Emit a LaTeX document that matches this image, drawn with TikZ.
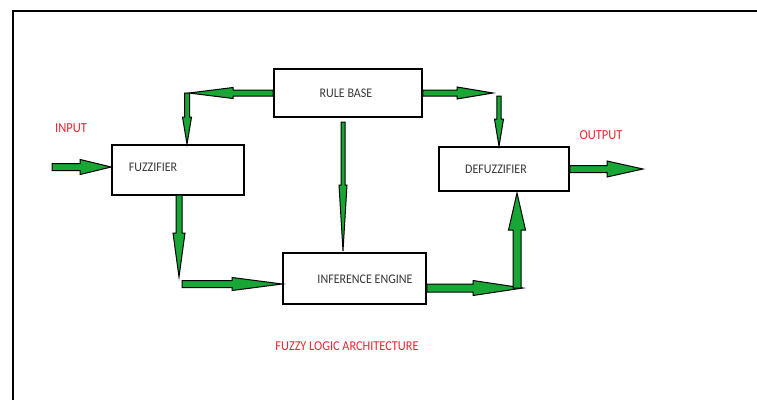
\documentclass[tikz,border=0pt]{standalone}
\usepackage{fontspec}
\setmainfont{Carlito}
\usetikzlibrary{calc}
\definecolor{arrgreen}{RGB}{24,166,52}
\definecolor{lblred}{RGB}{238,36,48}
\definecolor{txtgray}{RGB}{55,55,55}
\tikzset{
  box/.style={draw=black, line width=1.6pt, rectangle, inner sep=0pt},
  boxtext/.style={text=txtgray, font=\fontsize{12}{14}\selectfont, inner sep=0pt, yscale=1.1},
  redlbl/.style={text=lblred, font=\fontsize{12.5}{14}\selectfont, inner sep=0pt, yscale=1.1},
  blockarrow/.style={draw=black, fill=arrgreen, line width=1pt, line join=miter},
}
% #1 from, #2 to, #3 shaft half width, #4 head half width, #5 head length
\newcommand\blockarr[5]{%
  \draw[blockarrow] let \p1=#1, \p2=#2,
     \n1={atan2(\y2-\y1,\x2-\x1)}, \n2={veclen(\x2-\x1,\y2-\y1)} in
     [shift={(\p1)}, rotate=\n1]
     (0,-#3) -- ({\n2-#5},-#3) -- ({\n2-#5},-#4) -- ({\n2},0) --
     ({\n2-#5},#4) -- ({\n2-#5},#3) -- (0,#3) -- cycle;}
\begin{document}
\begin{tikzpicture}[x=1pt,y=-1pt]
\useasboundingbox (0,0) rectangle (757,400);
% frame
\draw[line width=2pt] (13,400) -- (13,11) -- (757,11);
% boxes
\node[box, minimum width=148pt, minimum height=48pt] (rb) at (348,93) {};
\node[box, minimum width=132pt, minimum height=50pt] (fz) at (178,170) {};
\node[box, minimum width=143pt, minimum height=51pt] (ie) at (354.5,278.5) {};
\node[box, minimum width=130pt, minimum height=44pt] (df) at (504,169) {};
% box texts
\node[boxtext] (rbt) at (346,93) {RULE BASE};
\node[boxtext] (fzt) at (153,167) {FUZZIFIER};
\node[boxtext] (iet) at (365,279) {INFERENCE ENGINE};
\node[boxtext] (dft) at (496,169) {DEFUZZIFIER};
% labels
\node[redlbl] (inl) at (71,128) {INPUT};
\node[redlbl] (outl) at (601,135) {OUTPUT};
\node[redlbl, font=\fontsize{12.3}{14}\selectfont] (title) at (347,346) {FUZZY LOGIC ARCHITECTURE};
% connector coordinates
\coordinate (inS) at (52,167);
\coordinate (c1) at (189,93);
\coordinate (c1b) at (187,93);
\coordinate (fzS) at (179,195);
\coordinate (c2) at (179,277);
\coordinate (c3) at (182,284);
\coordinate (rbS) at (343,122);
\coordinate (ieN) at (343,251);
\coordinate (c4) at (493,93);
\coordinate (c5) at (499,96);
\coordinate (c6) at (523,288);
\coordinate (c7) at (517,288);
\coordinate (dfS) at (517,193);
\coordinate (outE) at (643,169);
% arrows
\blockarr{(inS)}{(inS -| fz.west)}{3.5}{7.5}{31}
\blockarr{(rb.west)}{(c1)}{3}{5.5}{44}
\blockarr{(c1b)}{(c1b |- fz.north)}{2.5}{4.5}{27}
\blockarr{(fzS)}{(c2)}{3}{6}{44}
\blockarr{(c3)}{(c3 -| ie.west)}{3.5}{6.5}{50}
\blockarr{(rbS)}{(ieN)}{2}{4}{66}
\blockarr{(rb.east)}{(c4)}{3}{6}{36}
\blockarr{(c5)}{(c5 |- df.north)}{2.2}{4.5}{27}
\blockarr{(ie.east |- c6)}{(c6)}{4}{7.5}{50}
\blockarr{(c7)}{(dfS)}{4}{8.5}{37}
\blockarr{(df.east)}{(outE)}{3.5}{8}{36}
\end{tikzpicture}
\end{document}
